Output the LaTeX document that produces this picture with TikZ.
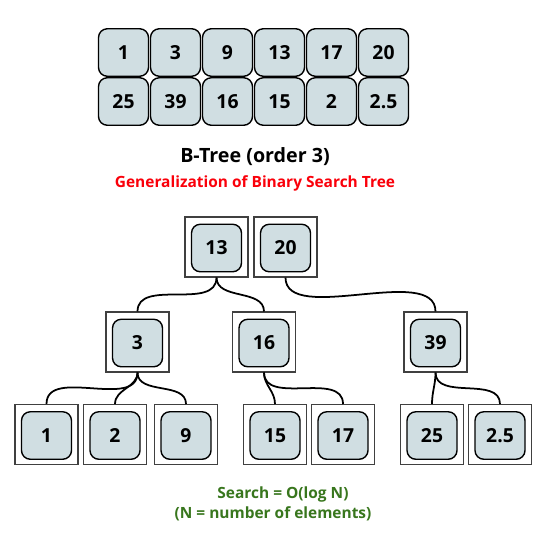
\documentclass[tikz,border=0pt]{standalone}
\usepackage{fontspec}
\setmainfont{Open Sans}
\definecolor{keyfill}{RGB}{208,222,226}
\definecolor{notered}{RGB}{250,0,10}
\definecolor{notegreen}{RGB}{56,118,29}

\begin{document}
\begin{tikzpicture}[x=0.02cm, y=-0.02cm, every node/.style={font=\bfseries}]
  \tikzstyle{cell}=[draw, line width=0.8pt, fill=keyfill, rounded corners=5pt, minimum width=1.0cm, minimum height=0.95cm, inner sep=0pt, font=\bfseries\fontsize{11}{13}\selectfont]
  \tikzstyle{page}=[draw=black!75, line width=0.6pt, minimum width=1.26cm, minimum height=1.2cm, inner sep=0pt]
  \tikzstyle{link}=[line width=1pt]
  \tikzstyle{note}=[font=\bfseries\fontsize{8.8}{11}\selectfont]
  \useasboundingbox (0,0) rectangle (550,541);
  % the keys as a plain array
  \foreach \v [count=\i from 0] in {1,3,9,13,17,20,25,39,16,15,2,2.5}{
    \pgfmathtruncatemacro\c{mod(\i,6)}
    \pgfmathtruncatemacro\r{div(\i,6)}
    \node[cell] (a\i) at (123.5+52*\c, 52.5+49*\r) {\v};
  }
  \node[font=\bfseries\fontsize{11.2}{13}\selectfont] (title) at (255,157) {B-Tree (order 3)};
  \node[note, text=notered] (sub) at (255,183) {Generalization of Binary Search Tree};
  % tree: a page round every key
  \foreach \n/\x/\y/\v in {r13/216.5/247/13, r20/285.5/247/20,
                           n3/137.5/342/3, n16/264/342/16, n39/435.5/342/39,
                           l1/46.5/434.5/1, l2/115/434.5/2, l9/186/434.5/9,
                           l15/275/434.5/15, l17/343/434.5/17,
                           l25/432/434.5/25, l25b/500/434.5/2.5}{
    \node[page] (p\n) at (\x,\y) {};
    \node[cell] (k\n) at (\x,\y+1) {\v};
  }
  \draw[link] (pr13.south) to[out=-90, in=90] (pn3.north);
  \draw[link] (pr13.south) to[out=-90, in=90] (pn16.north);
  \draw[link] (pr20.south) to[out=-90, in=90, looseness=0.8] (pn39.north);
  \foreach \j in {l1,l2,l9}{
    \draw[link] (pn3.south) to[out=-90, in=90] (p\j.north);
  }
  \foreach \j in {l15,l17}{
    \draw[link] (pn16.south) to[out=-90, in=90] (p\j.north);
  }
  \foreach \j in {l25,l25b}{
    \draw[link] (pn39.south) to[out=-90, in=90] (p\j.north);
  }
  \node[note, text=notegreen] (cost) at (283,494) {Search = O(log N)};
  \node[note, text=notegreen] (costn) at (273,514) {(N = number of elements)};
\end{tikzpicture}
\end{document}
